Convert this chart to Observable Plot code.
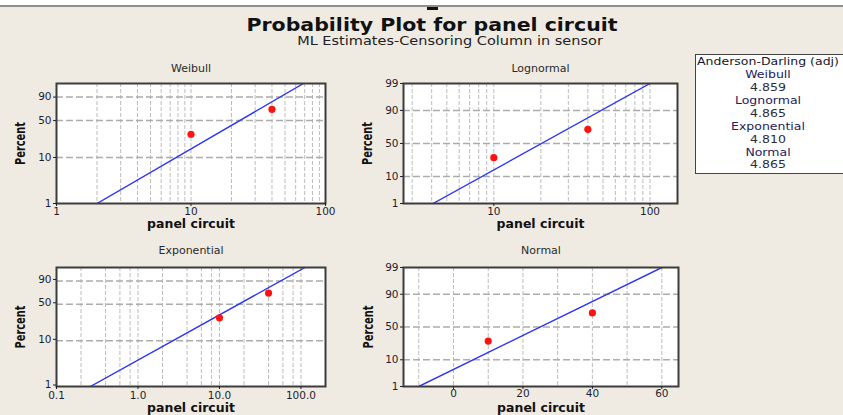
<!DOCTYPE html>
<html><head><meta charset="utf-8">
<script src="https://cdn.jsdelivr.net/npm/d3@7"></script>
<script src="https://cdn.jsdelivr.net/npm/@observablehq/plot@0.6"></script>
<style>
html,body{margin:0;padding:0;background:#fff;}
#root{position:relative;width:843px;height:415px;background:#efebe2;overflow:hidden;font-family:"DejaVu Sans",sans-serif;}
.abs{position:absolute;}
.ttl{text-align:center;white-space:nowrap;color:#111;}
.lg{position:absolute;width:200px;text-align:center;white-space:nowrap;font-size:12.5px;line-height:13px;height:13px;transform:scaleY(0.8);}
</style></head>
<body><div id="root"></div>
<script>
// ---------- data ----------
const failureTimes = [10, 40];             // plotted failures (panel circuit)
const plotPercents = [29.17, 70.83];       // plotting positions, %
const lineEndPercents = [1, 99];           // fitted line spans 1%..99%
const weibullLineX = [2.0, 68.6];
const lognormalLineX = [4.08, 100];
const exponentialLineX = [0.26, 112];
const normalLineX = [-10, 60];
const weibullXTicks = [1, 10, 100];
const weibullXLabels = ["1", "10", "100"];
const lognormalXTicks = [10, 100];
const lognormalXLabels = ["10", "100"];
const exponentialXTicks = [0.1, 1, 10, 100];
const exponentialXLabels = ["0.1", "1.0", "10.0", "100.0"];
const normalXTicks = [0, 20, 40, 60];
const normalXLabels = ["0", "20", "40", "60"];
const weibullYTicks = [1, 10, 50, 90];
const normalYTicks = [1, 10, 50, 90, 99];
const yGridPercents = [10, 50, 90];
const weibullXGrid = [2,3,4,5,6,7,8,9,10,20,30,40,50,60,70,80,90];
const lognormalXGrid = [3,4,5,6,7,8,9,10,20,30,40,50,60,70,80,90,100];
const exponentialXGrid = [0.2,0.4,0.6,0.8,1,2,4,6,8,10,20,40,60,80,100];
const normalXGrid = [-10,0,10,20,30,40,50,60];
const adHeader = "Anderson-Darling (adj)";
const adNames = ["Weibull", "Lognormal", "Exponential", "Normal"];
const adValues = ["4.859", "4.865", "4.810", "4.865"];
const titleText = "Probability Plot for panel circuit";
const subtitleText = "ML Estimates-Censoring Column in sensor";

// ---------- probability-paper transforms ----------
function qnorm(p){
  const a=[-3.969683028665376e+01,2.209460984245205e+02,-2.759285104469687e+02,1.383577518672690e+02,-3.066479806614716e+01,2.506628277459239e+00];
  const b=[-5.447609879822406e+01,1.615858368580409e+02,-1.556989798598866e+02,6.680131188771972e+01,-1.328068155288572e+01];
  const c=[-7.784894002430293e-03,-3.223964580411365e-01,-2.400758277161838e+00,-2.549732539343734e+00,4.374664141464968e+00,2.938163982698783e+00];
  const d=[7.784695709041462e-03,3.224671290700398e-01,2.445134137142996e+00,3.754408661907416e+00];
  const pl=0.02425; let q,r;
  if(p<pl){q=Math.sqrt(-2*Math.log(p));return (((((c[0]*q+c[1])*q+c[2])*q+c[3])*q+c[4])*q+c[5])/((((d[0]*q+d[1])*q+d[2])*q+d[3])*q+1);}
  if(p>1-pl){q=Math.sqrt(-2*Math.log(1-p));return -(((((c[0]*q+c[1])*q+c[2])*q+c[3])*q+c[4])*q+c[5])/((((d[0]*q+d[1])*q+d[2])*q+d[3])*q+1);}
  q=p-0.5;r=q*q;return (((((a[0]*r+a[1])*r+a[2])*r+a[3])*r+a[4])*r+a[5])*q/(((((b[0]*r+b[1])*r+b[2])*r+b[3])*r+b[4])*r+1);
}
const weib = p => Math.log(-Math.log(1 - p));

const root = document.getElementById("root");

function addDiv(style, html){const d=document.createElement("div");d.className="abs";Object.assign(d.style,style);if(html!=null)d.innerHTML=html;root.appendChild(d);return d;}
// decorative top strip
addDiv({left:"0",top:"0",width:"843px",height:"5px",background:"#fff"});
addDiv({left:"0",top:"5px",width:"843px",height:"2px",background:"#8e8e8e"});
addDiv({left:"427px",top:"7px",width:"11px",height:"3px",background:"#111"});

// titles
const t = addDiv({left:"132px",top:"15px",width:"600px",fontSize:"20.5px",lineHeight:"20.5px",fontWeight:"bold",transform:"scaleY(0.85)"});
t.className="abs ttl"; t.textContent = titleText;
const st = addDiv({left:"150px",top:"33.5px",width:"600px",fontSize:"14.5px",lineHeight:"14.5px",transform:"scaleY(0.85)",color:"#222"});
st.className="abs ttl"; st.textContent = subtitleText;

function panel(cfg){
  const yT = cfg.yT;
  const pts = failureTimes.map((x,i)=>({x, y:yT(plotPercents[i]/100)}));
  const line = cfg.lineX.map((x,i)=>({x, y:yT(lineEndPercents[i]/100)}));
  const yTickVals = cfg.yTicks.map(p=>yT(p/100));
  const yTickMap = new Map(cfg.yTicks.map(p=>[yT(p/100), String(p)]));
  const xTickMap = new Map(cfg.xTicks.map((v,i)=>[v, cfg.xLabels[i]]));
  const svg = Plot.plot({
    width: cfg.w, height: cfg.h,
    marginTop: cfg.m[0], marginRight: cfg.m[1], marginBottom: cfg.m[2], marginLeft: cfg.m[3],
    style: {background:"transparent", fontFamily:"DejaVu Sans, sans-serif", fontSize:"10.5px", color:"#1e1e32", overflow:"visible"},
    x: {type: cfg.xType, domain: cfg.xDomain},
    y: {type: "linear", domain: [yT(0.01), yT(0.99)]},
    marks: [
      Plot.frame({fill:"white", stroke:"none"}),
      Plot.ruleX(cfg.xGrid, {stroke:"#bcbcbc", strokeDasharray:"4,2", strokeWidth:1}),
      Plot.ruleY(yGridPercents.map(p=>yT(p/100)), {stroke:"#acacac", strokeDasharray:"7,3", strokeWidth:1.5}),
      Plot.line(line, {x:"x", y:"y", stroke:"#2a34f5", strokeWidth:1.4, clip:true}),
      Plot.dot(pts, {x:"x", y:"y", r:3.6, fill:"#ff1212", stroke:"none"}),
      Plot.frame({stroke:"#3c3c3c", strokeWidth:2}),
      Plot.axisX(cfg.xTicks, {tickSize:3, tickPadding:cfg.xPad, tickFormat:v=>xTickMap.get(v), label:null}),
      Plot.axisY(yTickVals, {tickSize:3, tickPadding:2, dy:cfg.yDy, tickFormat:v=>yTickMap.get(v), label:null}),
      Plot.text([cfg.title], {frameAnchor:"top", lineAnchor:"middle", dy:cfg.titleDy, fontSize:11, fill:"#2a2a2a"}),
      Plot.text(["panel circuit"], {frameAnchor:"bottom", lineAnchor:"middle", dy:cfg.xlabDy, fontSize:12.5, fontWeight:"bold", fill:"#111"}),
      Plot.text(["Percent"], {frameAnchor:"left", lineAnchor:"middle", textAnchor:"middle", dx:cfg.ylabDx, rotate:-90, fontSize:13.5, fontWeight:"bold", fill:"#111"})
    ]
  });
  // condensed "Percent" like the reference
  d3.select(svg).selectAll("text").filter(function(){return this.textContent === "Percent";})
    .attr("textLength", 43).attr("lengthAdjust", "spacingAndGlyphs");
  svg.style.position = "absolute";
  svg.style.left = cfg.left + "px";
  svg.style.top = cfg.top + "px";
  root.appendChild(svg);
}

panel({title:"Weibull", left:0, top:55, w:340, h:175, m:[28,15,27,56], xType:"log", xDomain:[1,100],
  xGrid:weibullXGrid, xTicks:weibullXTicks, xLabels:weibullXLabels, yT:weib, yTicks:weibullYTicks,
  lineX:weibullLineX, xPad:1, yDy:0, titleDy:-15, xlabDy:20, ylabDx:-36});
panel({title:"Lognormal", left:340, top:55, w:350, h:175, m:[28,13,27,63], xType:"log", xDomain:[2.64,150],
  xGrid:lognormalXGrid, xTicks:lognormalXTicks, xLabels:lognormalXLabels, yT:qnorm, yTicks:normalYTicks,
  lineX:lognormalLineX, xPad:1, yDy:0, titleDy:-15, xlabDy:20, ylabDx:-36});
panel({title:"Exponential", left:0, top:235, w:340, h:180, m:[32,15,29,56], xType:"log", xDomain:[0.1,200],
  xGrid:exponentialXGrid, xTicks:exponentialXTicks, xLabels:exponentialXLabels, yT:weib, yTicks:weibullYTicks,
  lineX:exponentialLineX, xPad:2.5, yDy:-1.5, titleDy:-17, xlabDy:21.5, ylabDx:-36});
panel({title:"Normal", left:340, top:235, w:350, h:180, m:[32,12,29,63], xType:"linear", xDomain:[-14.4,64.8],
  xGrid:normalXGrid, xTicks:normalXTicks, xLabels:normalXLabels, yT:qnorm, yTicks:normalYTicks,
  lineX:normalLineX, xPad:0.5, yDy:0, titleDy:-17, xlabDy:21.5, ylabDx:-35});

// legend box
addDiv({left:"695px",top:"54px",width:"160px",height:"118px",background:"#fff",border:"1px solid #444"});
const lgLines = [adHeader];
adNames.forEach((n,i)=>{lgLines.push(n); lgLines.push(adValues[i]);});
lgLines.forEach((s,i)=>{
  const d=document.createElement("div"); d.className="lg";
  d.style.left=(768-100)+"px"; d.style.top=(61.7 + i*12.9 - 6.5)+"px";
  d.style.color = i===0 ? "#15152a" : (i%2===1 ? "#1b2160" : "#2a2a40");
  d.textContent=s; root.appendChild(d);
});
</script>
</body></html>
